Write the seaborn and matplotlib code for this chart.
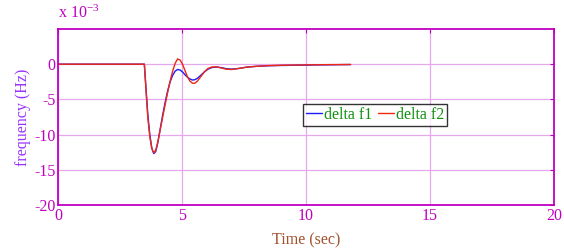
#importing the required libraries
import numpy as np
import pandas as pd
import seaborn as sns
import matplotlib.pyplot as plt

sns.set_style('white')
plt.rcParams['font.family'] = ['Liberation Serif', 'DejaVu Serif']
plt.rcParams['axes.unicode_minus'] = False
plt.rcParams['mathtext.default'] = 'regular'

# frequency deviation values, in units of 1e-3 Hz
t = [0, 3.48, 3.55, 3.62, 3.70, 3.78, 3.86, 3.94, 4.02, 4.12, 4.22, 4.32, 4.42,
     4.52, 4.62, 4.72, 4.82, 4.92, 5.02, 5.12, 5.22, 5.32, 5.42, 5.52, 5.62,
     5.75, 5.9, 6.05, 6.2, 6.4, 6.6, 6.8, 7.0, 7.3, 7.6, 8.0, 8.5, 9.0, 10.0,
     11.0, 11.8]
delta_f1 = [0, 0, -3.6, -7.2, -10.0, -11.9, -12.7, -12.4, -11.2, -9.2, -7.2,
            -5.4, -3.8, -2.5, -1.6, -1.0, -0.75, -0.82, -1.1, -1.5, -1.85,
            -2.1, -2.25, -2.2, -2.0, -1.6, -1.1, -0.7, -0.48, -0.4, -0.5,
            -0.65, -0.7, -0.6, -0.42, -0.3, -0.22, -0.18, -0.12, -0.08, -0.05]
delta_f2 = [0, 0, -3.9, -7.6, -10.3, -12.0, -12.6, -12.2, -11.1, -9.3, -7.5,
            -5.7, -4.0, -2.4, -1.0, 0.1, 0.75, 0.6, 0.0, -0.9, -1.8, -2.4,
            -2.7, -2.7, -2.4, -1.8, -1.1, -0.6, -0.4, -0.38, -0.55, -0.72,
            -0.75, -0.6, -0.42, -0.3, -0.2, -0.15, -0.1, -0.06, -0.04]

df = pd.DataFrame({
    'time': t + t,
    'freq': delta_f1 + delta_f2,
    'signal': ['delta f1'] * len(t) + ['delta f2'] * len(t),
})

magenta = '#c000c0'

fig = plt.figure(figsize=(5.64, 2.5), dpi=100)
ax = fig.add_axes([0.103, 0.18, 0.879, 0.704])

sns.lineplot(data=df, x='time', y='freq', hue='signal',
             palette={'delta f1': '#1a1aff', 'delta f2': '#f02810'},
             linewidth=1.0, ax=ax)

ax.set_xlim(0, 20)
ax.set_ylim(-20, 5)
ax.set_xticks([0, 5, 10, 15, 20])
ax.set_yticks([-20, -15, -10, -5, 0])
ax.grid(True, color='#e6a8ec', linewidth=0.9)
ax.set_axisbelow(True)
for s in ax.spines.values():
    s.set_color(magenta)
    s.set_linewidth(1.3)
ax.tick_params(direction='in', length=3, colors=magenta, labelsize=11.5,
               top=True, right=True, pad=2)
ax.set_xlabel('Time (sec)', color='#a0522d', fontsize=11.5, labelpad=6)
ax.set_ylabel('frequency (Hz)', color='#9933ff', fontsize=11.5, labelpad=2)
ax.text(0.0, 1.04, 'x 10$^{-3}$', transform=ax.transAxes, color=magenta,
        fontsize=11.5, ha='left', va='bottom')

leg = ax.legend(loc='lower left', bbox_to_anchor=(0.494, 0.449), ncol=2,
                fontsize=11.5, handlelength=1.0, handletextpad=0.1,
                columnspacing=0.4, borderpad=0.2, borderaxespad=0,
                fancybox=False, frameon=True)
leg.get_frame().set_edgecolor('black')
leg.get_frame().set_linewidth(1.0)
for txt in leg.get_texts():
    txt.set_color('#109010')

plt.savefig('out.png', dpi=100)
